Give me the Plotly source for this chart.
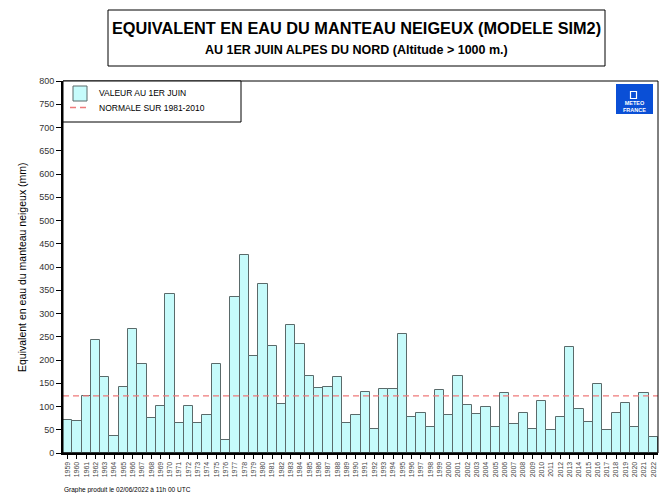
import plotly.graph_objects as go

years = [str(y) for y in range(1959, 2023)]
values = [71, 69, 123, 242, 164, 36, 143, 266, 191, 76,
          102, 341, 65, 102, 64, 81, 191, 29, 336, 426,
          209, 363, 231, 105, 276, 234, 166, 140, 143, 164,
          64, 81, 131, 51, 137, 137, 257, 77, 87, 56,
          135, 82, 165, 103, 83, 100, 57, 130, 63, 85,
          52, 112, 49, 78, 227, 94, 67, 148, 49, 85,
          107, 57, 128, 34]
normal_value = 123
y_ticks = list(range(0, 801, 50))

title_line1 = "EQUIVALENT EN EAU DU MANTEAU NEIGEUX (MODELE SIM2)"
title_line2 = "AU 1ER JUIN ALPES DU NORD (Altitude > 1000 m.)"
legend_labels = ["VALEUR AU 1ER JUIN", "NORMALE SUR 1981-2010"]
y_title = "Equivalent en eau du manteau neigeux (mm)"
footer = "Graphe produit le 02/06/2022 à 11h 00 UTC"

W, H = 660, 493
L, R, T, B = 63, 2, 81, 40
PW = W - L - R
PH = H - T - B


def px(x):
    return (x - L) / PW


def py(y):
    return (H - B - y) / PH


fig = go.Figure()
fig.add_trace(go.Bar(
    x=years, y=values,
    marker=dict(color="#c6fbfb", line=dict(color="#5a6a6a", width=1)),
    width=1.0, showlegend=False, hoverinfo="x+y",
))

fig.add_shape(type="line", xref="paper", yref="y", x0=0, x1=1,
              y0=normal_value, y1=normal_value,
              line=dict(color="#ef7a7a", width=1.3, dash="6px,4px"))

shapes = []
shapes.append(dict(type="rect", xref="paper", yref="paper", x0=0, x1=1, y0=0, y1=1,
                   line=dict(color="black", width=1), layer="above"))
shapes.append(dict(type="rect", xref="paper", yref="paper",
                   x0=px(108), x1=px(605), y0=py(66), y1=py(10),
                   line=dict(color="black", width=1), fillcolor="white"))
shapes.append(dict(type="rect", xref="paper", yref="paper",
                   x0=px(63), x1=px(241), y0=py(122), y1=py(81),
                   line=dict(color="black", width=1), fillcolor="white", layer="above"))
shapes.append(dict(type="rect", xref="paper", yref="paper",
                   x0=px(73), x1=px(87), y0=py(101), y1=py(86),
                   line=dict(color="#5a6a6a", width=1), fillcolor="#c6fbfb", layer="above"))
shapes.append(dict(type="line", xref="paper", yref="paper",
                   x0=px(70), x1=px(90), y0=py(107.5), y1=py(107.5),
                   line=dict(color="#ef7a7a", width=1.3, dash="6px,4px"), layer="above"))
shapes.append(dict(type="rect", xref="paper", yref="paper",
                   x0=px(616), x1=px(653), y0=py(114), y1=py(84),
                   line=dict(color="#0a4fd6", width=0), fillcolor="#0a4fd6", layer="above"))
shapes.append(dict(type="rect", xref="paper", yref="paper",
                   x0=px(630.5), x1=px(636.5), y0=py(98.5), y1=py(91.5),
                   line=dict(color="white", width=1.2), fillcolor="#0a4fd6", layer="above"))
for s in shapes:
    fig.add_shape(**s)

ann = []
ann.append(dict(text="<b>" + title_line1 + "</b>", x=px(356), y=py(28), xref="paper", yref="paper",
                showarrow=False, font=dict(size=16.3, color="black", family="Liberation Sans"),
                xanchor="center", yanchor="middle"))
ann.append(dict(text="<b>" + title_line2 + "</b>", x=px(356), y=py(50), xref="paper", yref="paper",
                showarrow=False, font=dict(size=12.5, color="black", family="Liberation Sans"),
                xanchor="center", yanchor="middle"))
ann.append(dict(text=legend_labels[0], x=px(97), y=py(93.5), xref="paper", yref="paper",
                showarrow=False, font=dict(size=8.5, color="black", family="Liberation Sans"),
                xanchor="left", yanchor="middle"))
ann.append(dict(text=legend_labels[1], x=px(97), y=py(107.5), xref="paper", yref="paper",
                showarrow=False, font=dict(size=8.5, color="black", family="Liberation Sans"),
                xanchor="left", yanchor="middle"))
ann.append(dict(text="<b>METEO<br>FRANCE</b>", x=px(634.5), y=py(106.5), xref="paper", yref="paper",
                showarrow=False, font=dict(size=5.5, color="white", family="Liberation Sans"),
                xanchor="center", yanchor="middle"))
ann.append(dict(text=footer, x=px(62), y=py(490), xref="paper", yref="paper",
                showarrow=False, font=dict(size=6.5, color="black", family="Liberation Sans"),
                xanchor="left", yanchor="middle"))
ann.append(dict(text=y_title, x=px(22), y=0.5, xref="paper", yref="paper", textangle=-90,
                showarrow=False, font=dict(size=10.5, color="black", family="Liberation Sans"),
                xanchor="center", yanchor="middle"))
for a in ann:
    fig.add_annotation(**a)

fig.update_layout(
    width=W, height=H,
    margin=dict(l=L, r=R, t=T, b=B, pad=0, autoexpand=False),
    paper_bgcolor="white", plot_bgcolor="white",
    bargap=0,
    showlegend=False,
    font=dict(family="Liberation Sans", color="black"),
)
fig.update_xaxes(
    type="category", range=[-0.5, len(years) - 0.5],
    tickmode="array", tickvals=years, ticktext=years,
    tickangle=-90, tickfont=dict(size=7, color="#444"),
    ticks="outside", ticklen=4, tickcolor="black",
    showline=True, linecolor="black", linewidth=2,
    showgrid=False, zeroline=False, automargin=False,
)
fig.update_yaxes(
    range=[0, 800], tickvals=y_ticks,
    tickfont=dict(size=9, color="#333"),
    ticks="outside", ticklen=5, tickcolor="black",
    showline=True, linecolor="black", linewidth=2,
    showgrid=False, zeroline=False, automargin=False,
)

fig.write_html("out.html", config={"displayModeBar": False},
               post_script="document.body.style.margin='0px';document.body.style.overflow='hidden';")
